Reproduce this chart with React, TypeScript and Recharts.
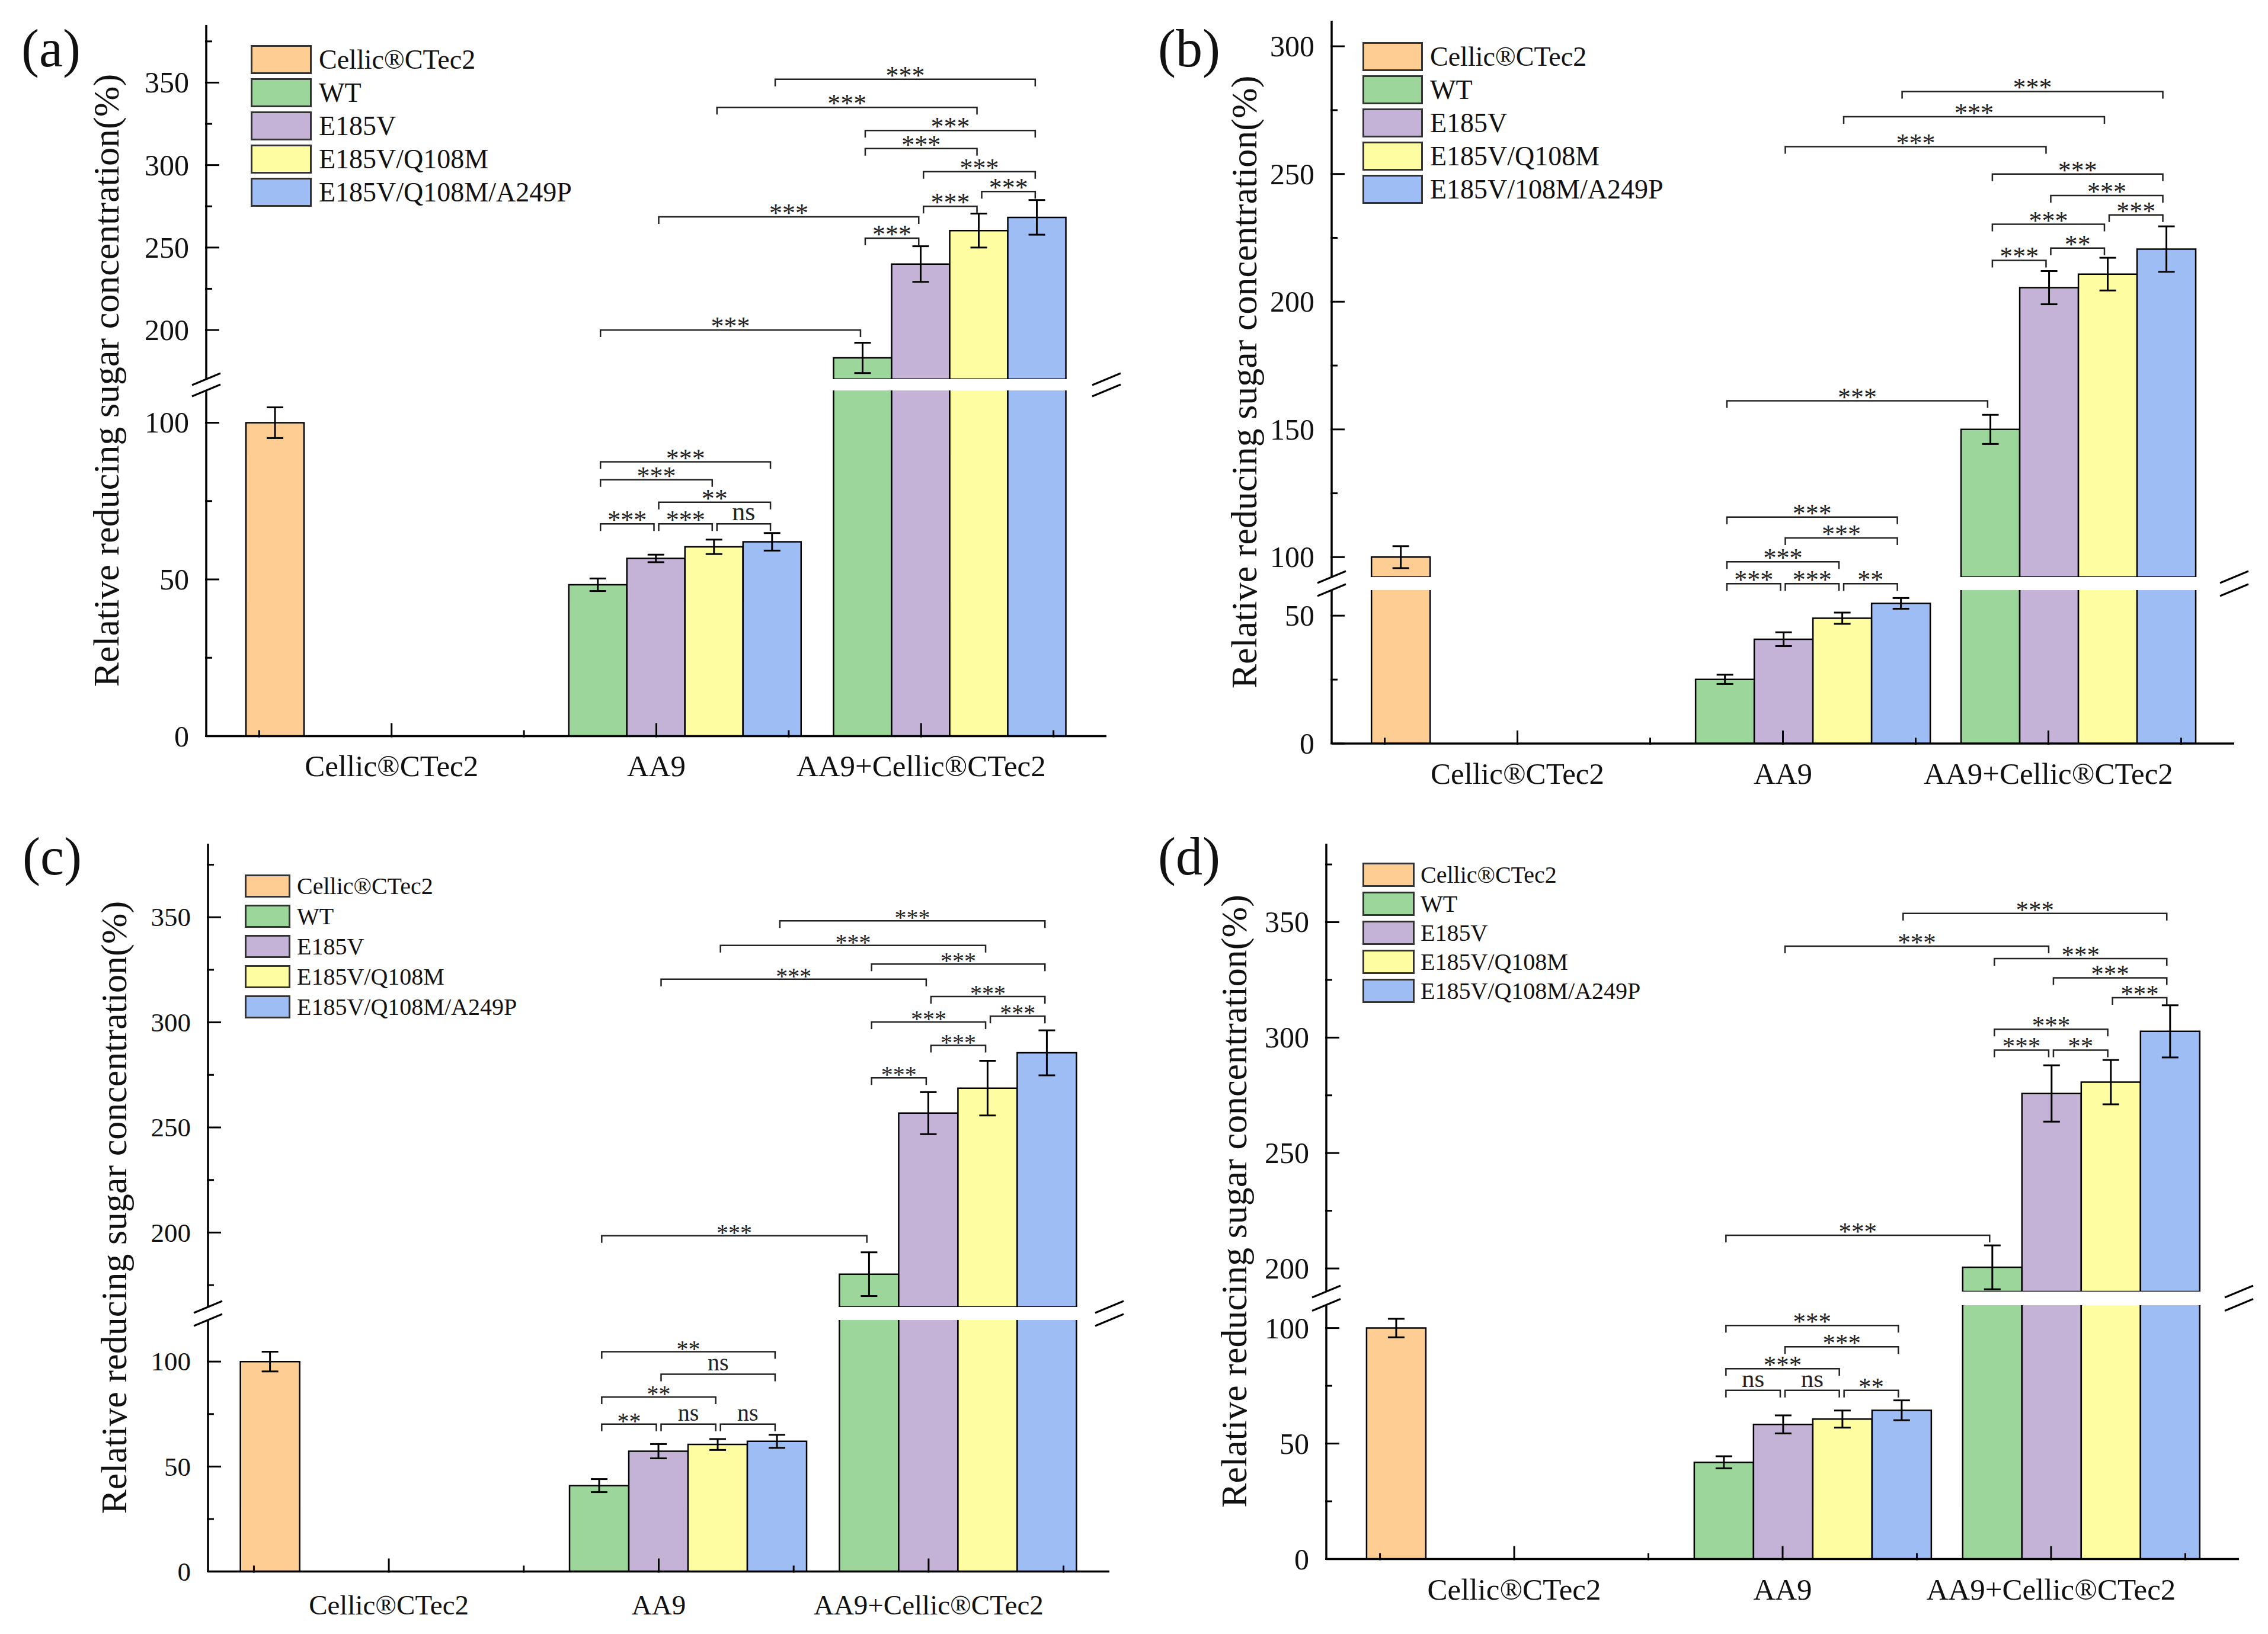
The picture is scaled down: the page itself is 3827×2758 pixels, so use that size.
import React from 'react';
import { BarChart, Bar, XAxis, YAxis, ErrorBar, ReferenceLine, Legend } from 'recharts';

const SERIF = '"Liberation Serif", "Times New Roman", Times, serif';
const PAGE_W = 3827;
const PAGE_H = 2758;

const CATEGORIES = ['Cellic®CTec2', 'AA9', 'AA9+Cellic®CTec2'];
const SERIES = ['Cellic®CTec2', 'WT', 'E185V', 'E185V/Q108M', 'E185V/Q108M/A249P'];
const SERIES_B = ['Cellic®CTec2', 'WT', 'E185V', 'E185V/Q108M', 'E185V/108M/A249P'];
const COLORS = ['#FECD93', '#9DD69B', '#C5B3D7', '#FFFDA1', '#9DBDF4'];
const X_TICKS = [0.5, 1, 1.5, 2, 2.5, 3, 3.5];
const Y_TITLE = 'Relative reducing sugar concentration(%)';

// rows = series, columns = categories
const A_VALUES = [
  [100, null, null],
  [null, 48.3, 183.1],
  [null, 56.7, 240.0],
  [null, 60.4, 260.3],
  [null, 62.0, 268.3],
];
const A_ERRORS = [
  [4.9, null, null],
  [null, 2.0, 9.2],
  [null, 1.2, 10.8],
  [null, 2.3, 10.3],
  [null, 2.8, 10.5],
];
const B_VALUES = [
  [100, null, null],
  [null, 25.1, 150.0],
  [null, 40.8, 205.5],
  [null, 49.0, 210.8],
  [null, 54.8, 220.6],
];
const B_ERRORS = [
  [4.3, null, null],
  [null, 1.8, 5.7],
  [null, 2.7, 6.5],
  [null, 2.2, 6.4],
  [null, 2.1, 8.9],
];
const C_VALUES = [
  [100, null, null],
  [null, 40.9, 180.2],
  [null, 57.3, 256.8],
  [null, 60.5, 268.7],
  [null, 62.0, 285.5],
];
const C_ERRORS = [
  [4.7, null, null],
  [null, 3.1, 10.4],
  [null, 3.4, 10.0],
  [null, 2.6, 13.0],
  [null, 3.1, 10.7],
];
const D_VALUES = [
  [100, null, null],
  [null, 41.9, 200.5],
  [null, 58.3, 275.8],
  [null, 60.6, 280.7],
  [null, 64.4, 302.7],
];
const D_ERRORS = [
  [4.0, null, null],
  [null, 2.6, 9.5],
  [null, 3.9, 12.2],
  [null, 3.7, 9.6],
  [null, 4.3, 11.3],
];

// [group, series, group, series, level, label]
type Bracket = [number, number, number, number, number, string];
const A_BRACKETS: Bracket[] = [
  [2, 4, 3, 4, 352, '***'], [2, 3, 3, 3, 335, '***'], [3, 1, 3, 4, 321, '***'],
  [3, 1, 3, 3, 310, '***'], [3, 2, 3, 4, 296, '***'], [3, 3, 3, 4, 284, '***'],
  [3, 2, 3, 3, 275, '***'], [2, 2, 3, 2, 268.6, '***'], [3, 1, 3, 2, 255.7, '***'],
  [2, 1, 3, 1, 200, '***'],
  [2, 1, 2, 4, 87.5, '***'], [2, 1, 2, 3, 81.8, '***'], [2, 2, 2, 4, 74.6, '**'],
  [2, 1, 2, 2, 67.7, '***'], [2, 2, 2, 3, 67.7, '***'], [2, 3, 2, 4, 67.7, 'ns'],
];
const B_BRACKETS: Bracket[] = [
  [2, 4, 3, 4, 282.3, '***'], [2, 3, 3, 3, 272.4, '***'], [2, 2, 3, 2, 260.7, '***'],
  [3, 1, 3, 4, 250, '***'], [3, 2, 3, 4, 241.6, '***'], [3, 3, 3, 4, 234, '***'],
  [3, 1, 3, 3, 230.3, '***'], [3, 2, 3, 3, 221, '**'], [3, 1, 3, 2, 216.2, '***'],
  [2, 1, 3, 1, 161.2, '***'],
  [2, 1, 2, 4, 115.7, '***'], [2, 2, 2, 4, 107.5, '***'], [2, 1, 2, 3, 98.2, '***'],
  [2, 1, 2, 2, 62.5, '***'], [2, 2, 2, 3, 62.5, '***'], [2, 3, 2, 4, 62.5, '**'],
];
const C_BRACKETS: Bracket[] = [
  [2, 4, 3, 4, 348.3, '***'], [2, 3, 3, 3, 336.6, '***'], [3, 1, 3, 4, 327.7, '***'],
  [2, 2, 3, 2, 320.5, '***'], [3, 2, 3, 4, 312.3, '***'], [3, 3, 3, 4, 302.9, '***'],
  [3, 1, 3, 3, 300.2, '***'], [3, 2, 3, 3, 289, '***'], [3, 1, 3, 2, 273.6, '***'],
  [2, 1, 3, 1, 198.5, '***'],
  [2, 1, 2, 4, 104.7, '**'], [2, 2, 2, 4, 94, 'ns'], [2, 1, 2, 3, 83.1, '**'],
  [2, 1, 2, 2, 70.2, '**'], [2, 2, 2, 3, 70.2, 'ns'], [2, 3, 2, 4, 70.2, 'ns'],
];
const D_BRACKETS: Bracket[] = [
  [2, 4, 3, 4, 353.8, '***'], [2, 2, 3, 2, 339.6, '***'], [3, 1, 3, 4, 334.2, '***'],
  [3, 2, 3, 4, 325.9, '***'], [3, 3, 3, 4, 317.3, '***'], [3, 1, 3, 3, 303.6, '***'],
  [3, 1, 3, 2, 294.6, '***'], [3, 2, 3, 3, 294.6, '**'], [2, 1, 3, 1, 214.4, '***'],
  [2, 1, 2, 4, 101.1, '***'], [2, 2, 2, 4, 91.9, '***'], [2, 1, 2, 3, 82.4, '***'],
  [2, 1, 2, 2, 73, 'ns'], [2, 2, 2, 3, 73, 'ns'], [2, 3, 2, 4, 73, '**'],
];

const A_UPPER_TICKS = [200, 225, 250, 275, 300, 325, 350, 375];
const A_LOWER_TICKS = [0, 25, 50, 75, 100];
const B_UPPER_TICKS = [100, 125, 150, 175, 200, 225, 250, 275, 300];
const B_LOWER_TICKS = [0, 25, 50];
const C_UPPER_TICKS = [175, 200, 225, 250, 275, 300, 325, 350, 375];
const C_LOWER_TICKS = [0, 25, 50, 75, 100];
const D_UPPER_TICKS = [200, 225, 250, 275, 300, 325, 350, 375];
const D_LOWER_TICKS = [0, 25, 50, 75, 100];

// bar width as a fraction of the group spacing
const SLOT = 0.22;
const GAP = `${((1 - 5 * SLOT) / 2) * 100}%`;
const AXIS_LINE = { stroke: '#000', strokeWidth: 3.5 };
const LEG = 12;

const PANELS = [
  {
    label: '(a)', labelX: 36, labelY: 112, titleX: 179,
    L: 348, R: 1867, T: 42, B: 1242.5, bandTop: 640, bandBottom: 659,
    upperDomain: [170.2, 385], lowerDomain: [0, 110.3],
    upperTicks: A_UPPER_TICKS, lowerTicks: A_LOWER_TICKS, xDomain: [0.3, 3.7],
    tickFont: 50, catFont: 51, catDy: 65, starFont: 44,
    legend: { dx: 75, dy: 34, boxW: 103, boxH: 49, pitch: 56, font: 46, gap: 12 },
    names: SERIES, values: A_VALUES, errors: A_ERRORS, brackets: A_BRACKETS,
  },
  {
    label: '(b)', labelX: 1954, labelY: 112, titleX: 2099,
    L: 2247, R: 3770, T: 35, B: 1255, bandTop: 974, bandBottom: 996,
    upperDomain: [92.2, 310], lowerDomain: [0, 60],
    upperTicks: B_UPPER_TICKS, lowerTicks: B_LOWER_TICKS, xDomain: [0.3, 3.7],
    tickFont: 50, catFont: 51, catDy: 66, starFont: 44,
    legend: { dx: 52, dy: 36, boxW: 102, boxH: 49, pitch: 56, font: 46, gap: 12 },
    names: SERIES_B, values: B_VALUES, errors: B_ERRORS, brackets: B_BRACKETS,
  },
  {
    label: '(c)', labelX: 38, labelY: 1476, titleX: 192,
    L: 351, R: 1872, T: 1424, B: 2652.5, bandTop: 2206, bandBottom: 2228,
    upperDomain: [164.6, 385], lowerDomain: [0, 119.8],
    upperTicks: C_UPPER_TICKS, lowerTicks: C_LOWER_TICKS, xDomain: [0.33, 3.67],
    tickFont: 45, catFont: 47, catDy: 70, starFont: 40,
    legend: { dx: 62, dy: 52, boxW: 77, boxH: 39, pitch: 51, font: 40, gap: 11 },
    names: SERIES, values: C_VALUES, errors: C_ERRORS, brackets: C_BRACKETS,
  },
  {
    label: '(d)', labelX: 1954, labelY: 1476, titleX: 2082,
    L: 2238, R: 3778, T: 1424, B: 2631, bandTop: 2180, bandBottom: 2202.5,
    upperDomain: [190, 384], lowerDomain: [0, 109.9],
    upperTicks: D_UPPER_TICKS, lowerTicks: D_LOWER_TICKS, xDomain: [0.3, 3.7],
    tickFont: 50, catFont: 51, catDy: 66, starFont: 43,
    legend: { dx: 61, dy: 32, boxW: 88, boxH: 41, pitch: 49, font: 40, gap: 10 },
    names: SERIES, values: D_VALUES, errors: D_ERRORS, brackets: D_BRACKETS,
  },
];

type PanelCfg = (typeof PANELS)[number];

const barX = (group: number, series: number) => group + (series - 2) * SLOT;

const bracketShape = (text: string, fontSize: number) => (props: any) => {
  const { x1, x2, y1 } = props;
  const a = x1 + 4;
  const b = x2 - 4;
  const ty = text === 'ns' ? y1 - 6 : y1 + 8;
  return (
    <g>
      <path d={`M${a},${y1 + LEG}V${y1}H${b}V${y1 + LEG}`} fill="none" stroke="#222" strokeWidth={2.5} />
      <text x={(a + b) / 2} y={ty} textAnchor="middle" fontSize={fontSize} fontFamily={SERIF} fill="#222">
        {text}
      </text>
    </g>
  );
};

const YTick = (props: any) => {
  const { x, y, payload, fontSize } = props;
  const major = payload.value % 50 === 0;
  return (
    <g>
      <line x1={x} x2={x + (major ? 24 : 12)} y1={y} y2={y} stroke="#000" strokeWidth={3} />
      {major && (
        <text x={x - 27} y={y} dy="0.34em" textAnchor="end" fontSize={fontSize} fontFamily={SERIF} fill="#111">
          {payload.value}
        </text>
      )}
    </g>
  );
};

const XTick = (props: any) => {
  const { x, y, payload, fontSize, dy } = props;
  const major = Number.isInteger(payload.value);
  return (
    <g>
      <line x1={x} x2={x} y1={y} y2={y - (major ? 24 : 12)} stroke="#000" strokeWidth={3} />
      {major && (
        <text x={x} y={y + dy} textAnchor="middle" fontSize={fontSize} fontFamily={SERIF} fill="#111">
          {CATEGORIES[payload.value - 1]}
        </text>
      )}
    </g>
  );
};

const legendContent = (cfg: PanelCfg['legend']) => (props: any) => (
  <div>
    {(props.payload || []).map((item: any) => (
      <div
        key={item.value}
        style={{ display: 'flex', alignItems: 'center', height: cfg.boxH, marginBottom: cfg.pitch - cfg.boxH }}
      >
        <span
          style={{
            width: cfg.boxW, height: cfg.boxH, background: item.color,
            border: '3px solid #333', boxSizing: 'border-box', display: 'inline-block',
          }}
        />
        <span style={{ marginLeft: cfg.gap, fontSize: cfg.font, fontFamily: SERIF, lineHeight: 1, color: '#111' }}>
          {item.value}
        </span>
      </div>
    ))}
  </div>
);

const PAD_L = 160;
const PAD_R = 40;
const Y_AXIS_W = 100;
const X_AXIS_H = 100;

function Segment({ p, upper }: { p: PanelCfg; upper: boolean }) {
  const [lo, hi] = upper ? p.upperDomain : p.lowerDomain;
  const plotTop = upper ? p.T : p.bandBottom;
  const plotBottom = upper ? p.bandTop : p.B;
  const padT = upper ? 30 : 90;
  const padB = upper ? 10 : X_AXIS_H + 10;
  const width = p.R - p.L + PAD_L + PAD_R;
  const height = plotBottom - plotTop + padT + padB;

  const rows = CATEGORIES.map((name, g) => {
    const row: Record<string, any> = { pos: g + 1, name };
    p.values.forEach((vals, s) => {
      const v = vals[g];
      const show = v != null && (!upper || v > lo);
      row[`v${s}`] = show ? v : null;
      row[`e${s}`] = show && v! < hi ? p.errors[s][g] : null;
    });
    return row;
  });

  const brackets = p.brackets.filter((b) => (b[4] >= p.upperDomain[0]) === upper);

  return (
    <div style={{ position: 'absolute', left: p.L - PAD_L, top: plotTop - padT }}>
      <BarChart
        width={width}
        height={height}
        data={rows}
        margin={{ top: padT, right: PAD_R, bottom: upper ? padB : padB - X_AXIS_H, left: PAD_L - Y_AXIS_W }}
        barGap={0}
        barCategoryGap={GAP}
      >
        <XAxis
          dataKey="pos"
          type="number"
          domain={p.xDomain}
          allowDataOverflow
          ticks={X_TICKS}
          interval={0}
          hide={upper}
          height={X_AXIS_H}
          tickLine={false}
          tickSize={0}
          axisLine={AXIS_LINE}
          tick={(tp: any) => <XTick {...tp} fontSize={p.catFont} dy={p.catDy} />}
        />
        {upper && (
          <XAxis
            xAxisId="top"
            orientation="top"
            type="number"
            domain={p.xDomain}
            allowDataOverflow
            height={0}
            tick={false}
            tickLine={false}
            axisLine={AXIS_LINE}
          />
        )}
        <YAxis
          type="number"
          domain={[lo, hi]}
          allowDataOverflow
          ticks={upper ? p.upperTicks : p.lowerTicks}
          interval={0}
          width={Y_AXIS_W}
          tickLine={false}
          tickSize={0}
          axisLine={AXIS_LINE}
          tick={(tp: any) => <YTick {...tp} fontSize={p.tickFont} />}
        />
        <YAxis
          yAxisId="right"
          orientation="right"
          type="number"
          domain={[lo, hi]}
          allowDataOverflow
          width={0}
          tick={false}
          tickLine={false}
          axisLine={AXIS_LINE}
        />
        {p.names.map((name, s) => (
          <Bar
            key={name}
            dataKey={`v${s}`}
            name={name}
            fill={COLORS[s]}
            stroke="#000"
            strokeWidth={2.5}
            isAnimationActive={false}
          >
            <ErrorBar dataKey={`e${s}`} width={14} stroke="#000" strokeWidth={3} />
          </Bar>
        ))}
        {brackets.map((b, i) => (
          <ReferenceLine
            key={i}
            segment={[{ x: barX(b[0], b[1]), y: b[4] }, { x: barX(b[2], b[3]), y: b[4] }]}
            ifOverflow="visible"
            shape={bracketShape(b[5], p.starFont)}
          />
        ))}
        {upper && (
          <Legend
            layout="vertical"
            align="center"
            verticalAlign="middle"
            itemSorter="dataKey"
            wrapperStyle={{ left: PAD_L + p.legend.dx, top: padT + p.legend.dy, width: 'auto', height: 'auto' }}
            content={legendContent(p.legend)}
          />
        )}
      </BarChart>
    </div>
  );
}

function Decorations() {
  return (
    <svg
      width={PAGE_W}
      height={PAGE_H}
      style={{ position: 'absolute', left: 0, top: 0, pointerEvents: 'none' }}
    >
      {PANELS.map((p) => (
        <g key={p.label}>
          <text x={p.labelX} y={p.labelY} fontSize={90} fontFamily={SERIF} fill="#111">
            {p.label}
          </text>
          <text
            transform={`translate(${p.titleX}, ${(p.T + p.B) / 2}) rotate(-90)`}
            textAnchor="middle"
            dominantBaseline="central"
            fontSize={62}
            fontFamily={SERIF}
            fill="#111"
          >
            {Y_TITLE}
          </text>
          {[p.L, p.R].map((x) =>
            [p.bandTop, p.bandBottom].map((y) => (
              <line key={`${x}-${y}`} x1={x - 24} y1={y + 10} x2={x + 24} y2={y - 10} stroke="#000" strokeWidth={3} />
            )),
          )}
        </g>
      ))}
    </svg>
  );
}

export default function App() {
  return (
    <div style={{ position: 'absolute', left: 0, top: 0, width: PAGE_W, height: PAGE_H, background: '#fff' }}>
      {PANELS.map((p) => (
        <React.Fragment key={p.label}>
          <Segment p={p} upper={false} />
          <Segment p={p} upper />
        </React.Fragment>
      ))}
      <Decorations />
    </div>
  );
}
